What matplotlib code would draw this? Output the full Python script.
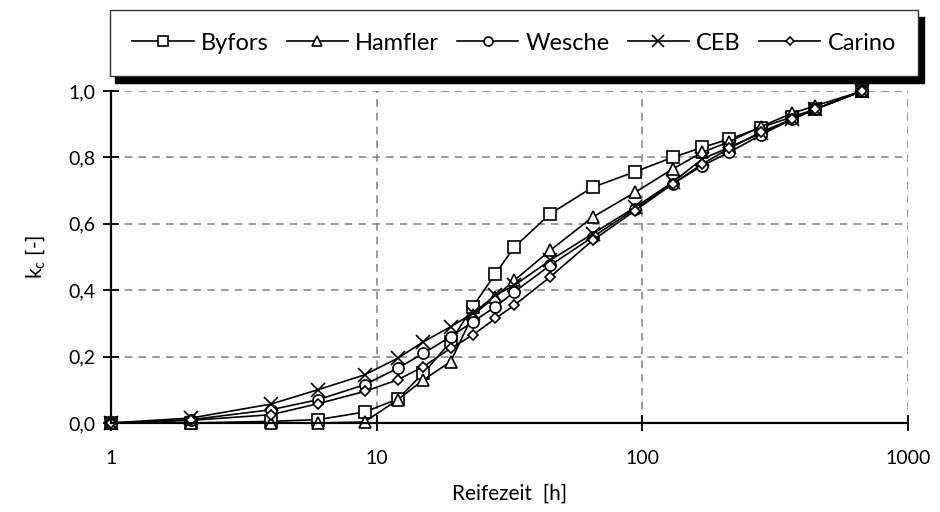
import numpy as np
import matplotlib.pyplot as plt
from matplotlib.ticker import FuncFormatter, FixedLocator, NullLocator

plt.rcParams['font.family'] = ['Lato', 'DejaVu Sans']

# Reifezeit in Stunden (gemeinsam fuer alle Modelle)
hours = [1, 2, 4, 6, 9, 12, 15, 19, 23, 28, 33, 45, 65, 94, 130, 168, 212, 280, 366, 447, 672]

byfors = [0, 0, 0.005, 0.01, 0.033, 0.072, 0.15, 0.245, 0.35, 0.45, 0.53, 0.63, 0.71,
          0.757, 0.80, 0.83, 0.855, 0.89, 0.922, 0.945, 1.0]
hamfler = [0, 0, 0, 0, 0.003, 0.07, 0.13, 0.185, 0.325, 0.38, 0.43, 0.52, 0.62,
           0.695, 0.765, 0.815, 0.847, 0.893, 0.933, 0.955, 1.0]
wesche = [0, 0.01, 0.04, 0.07, 0.115, 0.165, 0.21, 0.26, 0.305, 0.35, 0.395, 0.475, 0.56,
          0.645, 0.72, 0.775, 0.815, 0.868, 0.915, 0.945, 1.0]
ceb = [0, 0.015, 0.057, 0.1, 0.145, 0.195, 0.245, 0.29, 0.33, 0.385, 0.415, 0.49, 0.57,
       0.65, 0.725, 0.795, 0.83, 0.873, 0.915, 0.945, 1.0]
carino = [0, 0.008, 0.025, 0.058, 0.095, 0.13, 0.17, 0.225, 0.265, 0.315, 0.355, 0.44, 0.55,
          0.64, 0.72, 0.78, 0.827, 0.877, 0.915, 0.945, 1.0]

series = [
    ('Byfors', byfors, 's', 8.5),
    ('Hamfler', hamfler, '^', 8.5),
    ('Wesche', wesche, 'o', 8),
    ('CEB', ceb, 'x', 10),
    ('Carino', carino, 'D', 5.5),
]

fig = plt.figure(figsize=(9.4, 5.12), dpi=100)
ax = fig.add_axes([111/940, 1 - 423/512, 797/940, 332/512])

for name, vals, mk, ms in series:
    ax.plot(hours, vals, color='black', lw=1.2, marker=mk, ms=ms,
            mfc='white', mec='black', mew=1.2, label=name, clip_on=False)

ax.set_xscale('log')
ax.set_xlim(1, 1000)
ax.set_ylim(0, 1.0)
ax.xaxis.set_major_locator(FixedLocator([1, 10, 100, 1000]))
ax.xaxis.set_minor_locator(NullLocator())
ax.xaxis.set_major_formatter(FuncFormatter(lambda v, p: f'{v:.0f}'))
ax.set_yticks(np.arange(0, 1.01, 0.2))
ax.yaxis.set_major_formatter(FuncFormatter(lambda v, p: f'{v:.1f}'.replace('.', ',')))

ax.grid(True, color='#808080', ls=(0, (5, 4)), lw=1.1)
ax.set_axisbelow(True)
for s in ['top', 'right']:
    ax.spines[s].set_visible(False)
for s in ['left', 'bottom']:
    ax.spines[s].set_linewidth(1.6)

ax.tick_params(axis='both', direction='inout', length=11, width=1.3, labelsize=14)
ax.tick_params(axis='x', pad=14)
ax.tick_params(axis='y', pad=6)

ax.set_xlabel('Reifezeit  [h]', fontsize=15, labelpad=12)
ax.set_ylabel(r'k$_\mathregular{c}$ [-]', fontsize=15, labelpad=14)

handles, labels = ax.get_legend_handles_labels()
leg = fig.legend(handles, labels, loc='center', ncol=5, mode='expand',
                 bbox_to_anchor=(98/940, 1 - 77/512, 832/940, 68/512),
                 fontsize=17, frameon=True, fancybox=False, borderpad=0.95,
                 handlelength=2.6, handletextpad=0.3, markerscale=0.8,
                 shadow={'ox': 4, 'oy': -5, 'color': 'black', 'alpha': 1})
leg.get_frame().set_edgecolor('#333333')
leg.get_frame().set_linewidth(1.0)

fig.savefig('out.png', dpi=100)
